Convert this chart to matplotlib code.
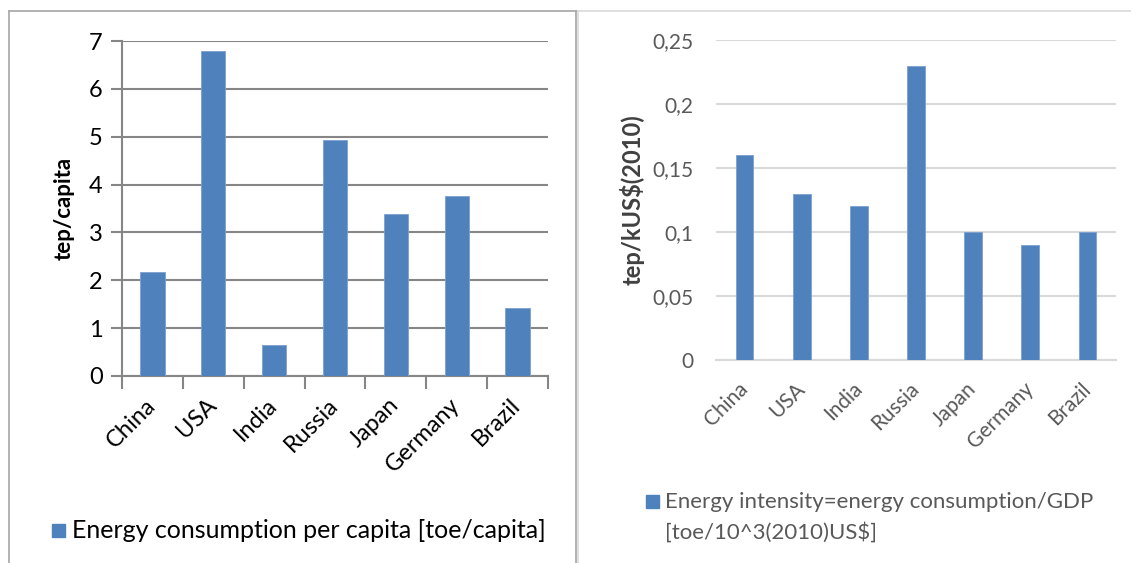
import numpy as np
import matplotlib.pyplot as plt
from matplotlib.patches import Rectangle
from matplotlib.lines import Line2D
from matplotlib.transforms import ScaledTranslation

plt.rcParams['font.family'] = ['Lato', 'DejaVu Sans']

countries = ['China', 'USA', 'India', 'Russia', 'Japan', 'Germany', 'Brazil']
per_capita = [2.17, 6.80, 0.65, 4.93, 3.38, 3.77, 1.43]
intensity = [0.16, 0.13, 0.12, 0.23, 0.10, 0.09, 0.10]
left_yticks = [0, 1, 2, 3, 4, 5, 6, 7]
right_yticks = [0, 0.05, 0.1, 0.15, 0.2, 0.25]
right_ylabels = ['0', '0,05', '0,1', '0,15', '0,2', '0,25']

BLUE = '#4f81bd'
W, H = 1131, 563

fig = plt.figure(figsize=(W / 100, H / 100), dpi=100)


def px(x0, y0, x1, y1):
    # pixel box (top-left origin) -> figure fraction rect
    return [x0 / W, 1 - y1 / H, (x1 - x0) / W, (y1 - y0) / H]


def nudge(labels, dx, dy=0):
    # shift tick labels by a few pixels
    off = ScaledTranslation(dx / 100, dy / 100, fig.dpi_scale_trans)
    for lab in labels:
        lab.set_transform(lab.get_transform() + off)


# panel frames
fig.add_artist(Line2D([9 / W, 9 / W], [0, 1 - 11 / H], color='#a6a6a6', lw=1.2))
fig.add_artist(Line2D([9 / W, 576 / W], [1 - 11 / H, 1 - 11 / H], color='#a6a6a6', lw=1.2))
fig.add_artist(Line2D([576 / W, 576 / W], [0, 1 - 11 / H], color='#a6a6a6', lw=1.2))
fig.add_artist(Line2D([578 / W, 578 / W], [0, 1 - 11 / H], color='#d9d9d9', lw=1.2))
fig.add_artist(Line2D([578 / W, 1], [1 - 11 / H, 1 - 11 / H], color='#d9d9d9', lw=1.2))

# left chart: per capita consumption
ax1 = fig.add_axes(px(122, 41, 548, 376))
x = np.arange(len(countries))
ax1.bar(x, per_capita, width=0.4, color=BLUE, edgecolor='#7ba0d0', linewidth=0.6, zorder=3)
ax1.set_xlim(-0.5, 6.5)
ax1.set_ylim(0, 7)
ax1.set_yticks(left_yticks)
ax1.set_yticklabels([str(v) for v in left_yticks], fontsize=17)
ax1.yaxis.grid(True, color='#868686', lw=1.5, zorder=0)
ax1.set_axisbelow(True)
for s in ['top', 'right']:
    ax1.spines[s].set_visible(False)
for s in ['left', 'bottom']:
    ax1.spines[s].set_color('#868686')
    ax1.spines[s].set_linewidth(1.5)
ax1.tick_params(axis='y', length=8, width=1.5, color='#868686', pad=6)
ax1.set_xticks(np.arange(-0.5, 7, 1))
ax1.set_xticklabels([])
ax1.set_xticks(x, minor=True)
ax1.set_xticklabels(countries, minor=True, rotation=45, ha='right',
                    rotation_mode='anchor', fontsize=17)
ax1.tick_params(axis='x', which='major', length=9, width=1.5, color='#868686')
ax1.tick_params(axis='x', which='minor', length=0, pad=14)
nudge(ax1.get_xticklabels(minor=True), -8, 1)
ax1.set_ylabel('tep/capita', fontsize=16, fontweight='bold', labelpad=10)

fig.add_artist(Rectangle((52 / W, 1 - 537 / H), 13 / W, 13 / H,
                         transform=fig.transFigure, color=BLUE))
fig.text(72 / W, 1 - 530 / H, 'Energy consumption per capita [toe/capita]',
         fontsize=18, va='center', ha='left', color='black')

# right chart: energy intensity
ax2 = fig.add_axes(px(716, 40, 1116, 360))
ax2.bar(x, intensity, width=0.31, color=BLUE, edgecolor='#7ba0d0', linewidth=0.6, zorder=3)
ax2.set_xlim(-0.5, 6.5)
ax2.set_ylim(0, 0.25)
ax2.set_yticks(right_yticks)
ax2.set_yticklabels(right_ylabels, fontsize=15, color='#595959')
ax2.yaxis.grid(True, color='#d9d9d9', lw=1.5, zorder=0)
ax2.set_axisbelow(True)
for s in ['top', 'right', 'left']:
    ax2.spines[s].set_visible(False)
ax2.spines['bottom'].set_color('#d9d9d9')
ax2.spines['bottom'].set_linewidth(1.5)
ax2.tick_params(axis='y', length=0, pad=16)
ax2.set_xticks(x)
ax2.set_xticklabels(countries, rotation=45, ha='right', rotation_mode='anchor',
                    fontsize=15, color='#595959')
ax2.tick_params(axis='x', length=0, pad=12)
nudge(ax2.get_xticklabels(), -7, -2)
ax2.set_ylabel('tep/kUS$(2010)', fontsize=17, fontweight='bold', color='#404040', labelpad=6)

fig.add_artist(Rectangle((646 / W, 1 - 508 / H), 13 / W, 13 / H,
                         transform=fig.transFigure, color=BLUE))
fig.text(665 / W, 1 - 502 / H, 'Energy intensity=energy consumption/GDP',
         fontsize=16, va='center', ha='left', color='#595959')
fig.text(665 / W, 1 - 532 / H, '[toe/10^3(2010)US$]',
         fontsize=16, va='center', ha='left', color='#595959')

fig.savefig('out.png', dpi=100)
